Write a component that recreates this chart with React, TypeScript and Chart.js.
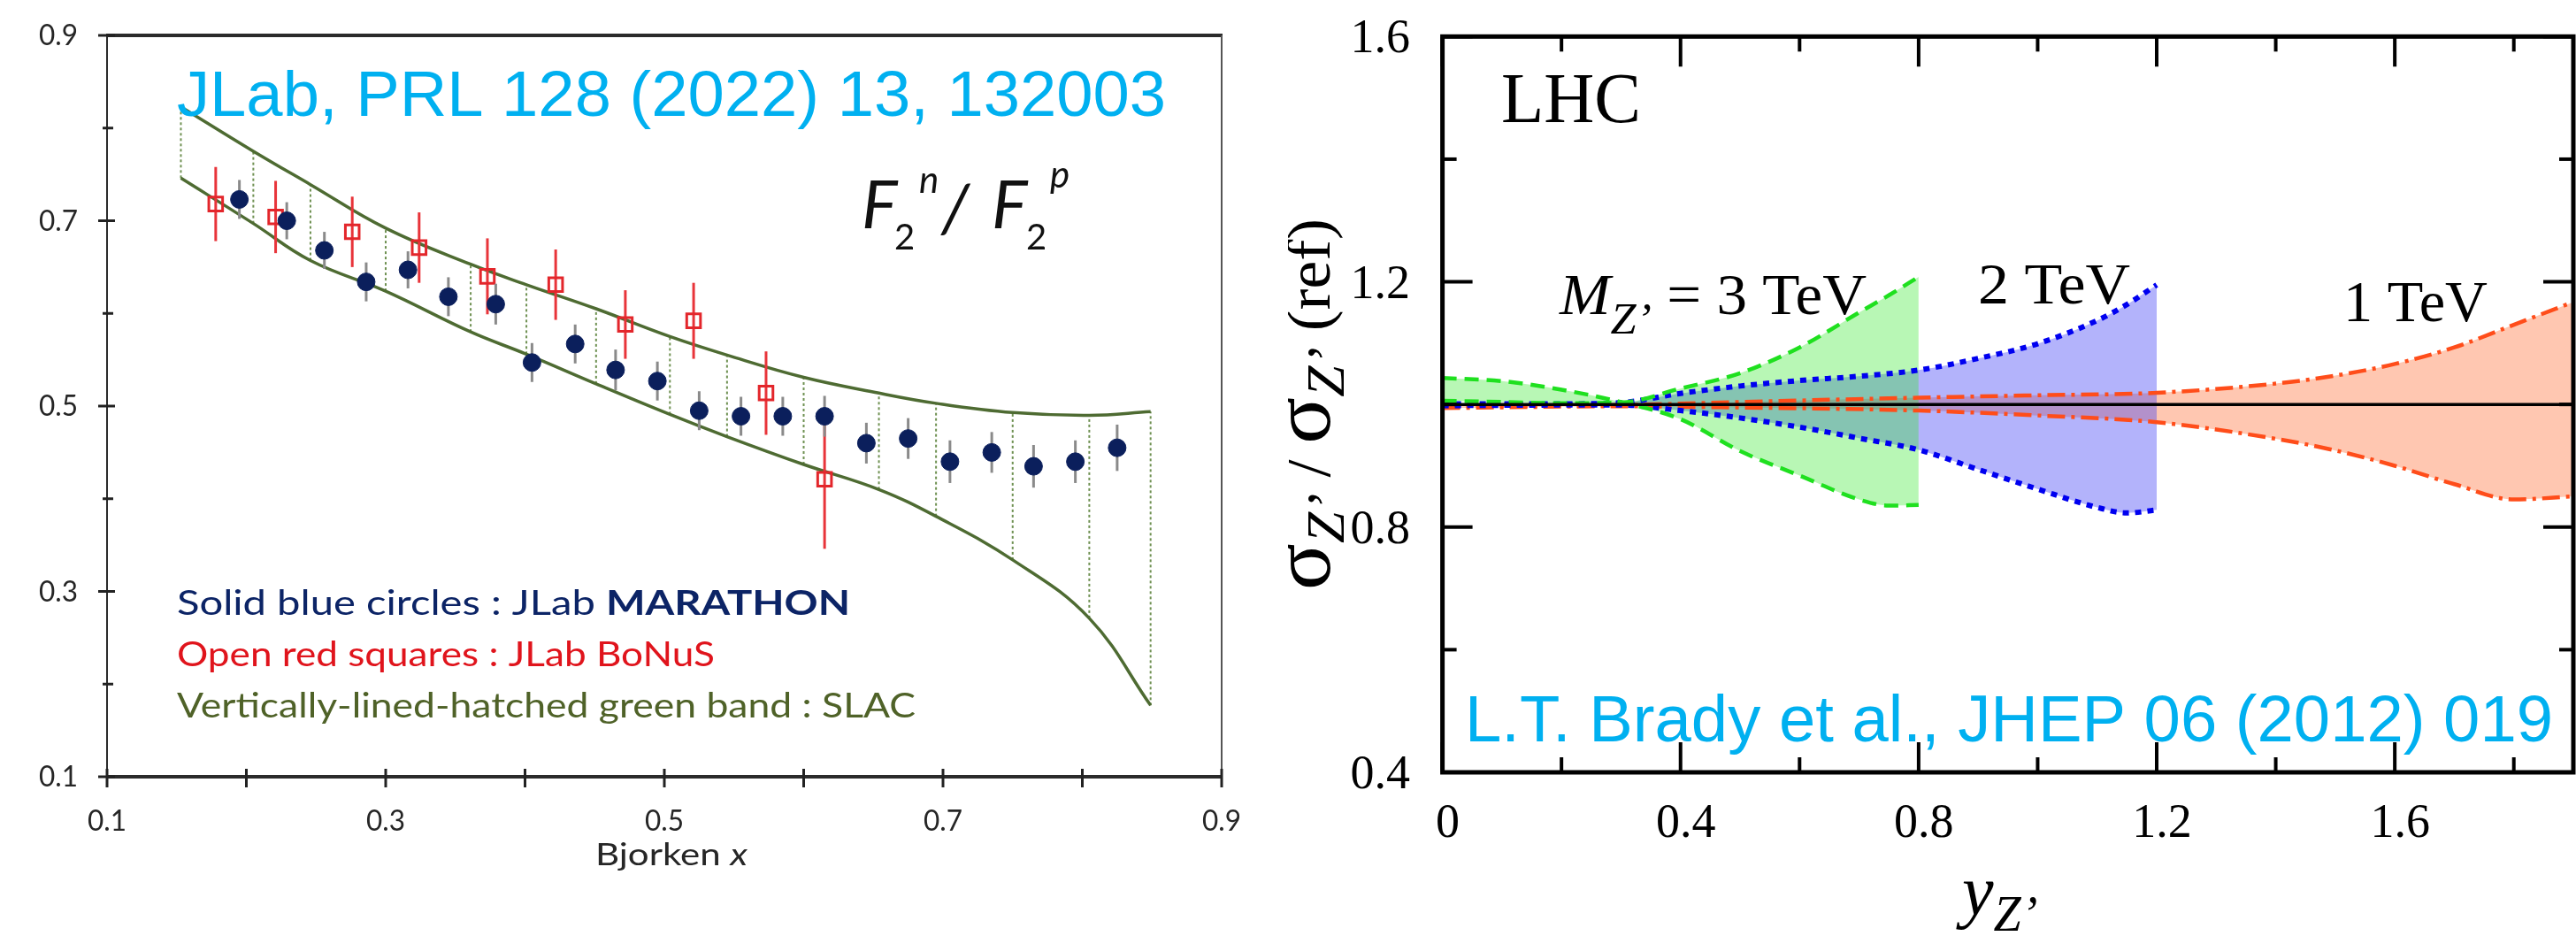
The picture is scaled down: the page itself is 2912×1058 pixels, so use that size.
import React, { useEffect, useRef } from 'react';
import { Chart, registerables } from 'chart.js';

Chart.register(...registerables);

// ---------------- Left panel: F2n / F2p vs Bjorken x ----------------
const marathonX = [0.195, 0.229, 0.256, 0.286, 0.316, 0.345, 0.379, 0.405, 0.436, 0.465, 0.495, 0.525, 0.555, 0.585, 0.615, 0.645, 0.675, 0.705, 0.735, 0.765, 0.795, 0.825];
const marathonY = [0.723, 0.700, 0.668, 0.634, 0.647, 0.618, 0.610, 0.547, 0.567, 0.539, 0.527, 0.495, 0.489, 0.489, 0.489, 0.460, 0.465, 0.440, 0.450, 0.435, 0.440, 0.455];
const marathonErr = [0.021, 0.020, 0.020, 0.021, 0.020, 0.021, 0.022, 0.021, 0.021, 0.022, 0.021, 0.021, 0.021, 0.021, 0.022, 0.022, 0.022, 0.023, 0.022, 0.023, 0.023, 0.025];

const bonusX = [0.178, 0.221, 0.276, 0.324, 0.373, 0.422, 0.472, 0.521, 0.573, 0.615];
const bonusY = [0.718, 0.704, 0.688, 0.671, 0.640, 0.631, 0.588, 0.592, 0.514, 0.421];
const bonusErr = [0.040, 0.039, 0.038, 0.038, 0.041, 0.038, 0.037, 0.041, 0.045, 0.075];

const slacX = [0.153, 0.205, 0.246, 0.300, 0.361, 0.401, 0.451, 0.504, 0.545, 0.600, 0.654, 0.695, 0.750, 0.805, 0.849];
const slacUpper = [0.823, 0.775, 0.739, 0.692, 0.653, 0.631, 0.605, 0.575, 0.555, 0.531, 0.514, 0.503, 0.493, 0.490, 0.494];
const slacLower = [0.746, 0.697, 0.657, 0.624, 0.580, 0.556, 0.524, 0.491, 0.467, 0.437, 0.410, 0.381, 0.334, 0.271, 0.177];

const leftXTicks = [0.1, 0.2, 0.3, 0.4, 0.5, 0.6, 0.7, 0.8, 0.9];
const leftXLabels = ['0.1', '', '0.3', '', '0.5', '', '0.7', '', '0.9'];
const leftYTicks = [0.1, 0.2, 0.3, 0.4, 0.5, 0.6, 0.7, 0.8, 0.9];
const leftYLabels = ['0.1', '', '0.3', '', '0.5', '', '0.7', '', '0.9'];

// ---------------- Right panel: sigma_Z' / sigma_Z'(ref) vs y_Z' ----------------
const tev3X = [0, 0.1, 0.2, 0.3, 0.4, 0.5, 0.6, 0.7, 0.75, 0.8];
const tev3A = [1.043, 1.038, 1.024, 1.004, 0.976, 0.924, 0.884, 0.845, 0.835, 0.836];
const tev3B = [1.006, 1.004, 1.002, 1.003, 1.026, 1.051, 1.093, 1.150, 1.178, 1.208];

const tev2X = [0, 0.2, 0.3, 0.4, 0.5, 0.6, 0.7, 0.8, 0.9, 1.0, 1.1, 1.15, 1.2];
const tev2Up = [1.001, 1.001, 1.003, 1.018, 1.030, 1.039, 1.046, 1.056, 1.075, 1.099, 1.137, 1.163, 1.195];
const tev2Lo = [0.998, 0.999, 0.999, 0.990, 0.978, 0.963, 0.945, 0.926, 0.894, 0.862, 0.832, 0.823, 0.828];

const tev1X = [0, 0.3, 0.5, 0.8, 1.0, 1.2, 1.4, 1.5, 1.6, 1.7, 1.8, 1.9];
const tev1Up = [0.997, 0.999, 1.004, 1.011, 1.015, 1.019, 1.034, 1.047, 1.066, 1.093, 1.130, 1.167];
const tev1Lo = [0.994, 0.997, 0.995, 0.990, 0.982, 0.971, 0.944, 0.925, 0.900, 0.870, 0.845, 0.850];

const refX = [0, 1.9];
const refY = [1, 1];

const rightXTicks = [0, 0.2, 0.4, 0.6, 0.8, 1.0, 1.2, 1.4, 1.6, 1.8];
const rightXLabels = ['0', '', '0.4', '', '0.8', '', '1.2', '', '1.6', ''];
const rightYTicks = [0.4, 0.6, 0.8, 1.0, 1.2, 1.4, 1.6];
const rightYLabels = ['0.4', '', '0.8', '', '1.2', '', '1.6'];

// ---------------- helpers ----------------
type Piece = { t: string; font: string; color?: string; dy?: number };

function pts(xs: number[], ys: number[]) {
  return xs.map((x, i) => ({ x, y: ys[i] }));
}

function seg(ctx: CanvasRenderingContext2D, x1: number, y1: number, x2: number, y2: number, w: number) {
  ctx.lineWidth = w;
  ctx.beginPath();
  ctx.moveTo(x1, y1);
  ctx.lineTo(x2, y2);
  ctx.stroke();
}

function drawRich(ctx: CanvasRenderingContext2D, pieces: Piece[], x: number, y: number, width?: number, align: 'left' | 'center' | 'right' = 'left') {
  ctx.save();
  let total = 0;
  const ws = pieces.map((p) => {
    ctx.font = p.font;
    const w = ctx.measureText(p.t).width;
    total += w;
    return w;
  });
  const sx = width ? width / total : 1;
  const w = total * sx;
  const x0 = align === 'left' ? x : align === 'center' ? x - w / 2 : x - w;
  ctx.translate(x0, y);
  ctx.scale(sx, 1);
  ctx.textAlign = 'left';
  ctx.textBaseline = 'alphabetic';
  let cx = 0;
  pieces.forEach((p, i) => {
    ctx.font = p.font;
    ctx.fillStyle = p.color || '#000';
    ctx.fillText(p.t, cx, p.dy || 0);
    cx += ws[i];
  });
  ctx.restore();
}

const errorBarPlugin = {
  id: 'errorBars',
  beforeDatasetDraw(chart: any, args: any) {
    const ds = chart.data.datasets[args.index];
    if (!ds.errors) return;
    const ctx = chart.ctx;
    const y = chart.scales.y;
    ctx.save();
    ctx.strokeStyle = ds.errorColor;
    ctx.lineWidth = ds.errorWidth;
    args.meta.data.forEach((el: any, i: number) => {
      const v = ds.data[i].y;
      const e = ds.errors[i];
      ctx.beginPath();
      ctx.moveTo(el.x, y.getPixelForValue(v + e));
      ctx.lineTo(el.x, y.getPixelForValue(v - e));
      ctx.stroke();
    });
    ctx.restore();
  },
};

const SANS = '"Liberation Sans", Arial, sans-serif';
const CAL = 'Lato, "Noto Sans", sans-serif';
const SERIF = '"Liberation Serif", "Times New Roman", serif';
const CYAN = '#00b0f0';

const leftDecor = {
  id: 'leftDecor',
  afterDraw(chart: any) {
    const { ctx, chartArea: a, scales } = chart;
    const x = scales.x;
    const y = scales.y;
    ctx.save();
    ctx.lineCap = 'butt';
    ctx.strokeStyle = '#2b2b2b';
    seg(ctx, a.left - 1, a.top, a.right + 1, a.top, 4);
    seg(ctx, a.left - 1, a.bottom, a.right + 1, a.bottom, 4);
    seg(ctx, a.left, a.top, a.left, a.bottom, 2);
    ctx.strokeStyle = '#555';
    seg(ctx, a.right, a.top, a.right, a.bottom, 2);

    ctx.strokeStyle = '#222';
    leftXTicks.forEach((v) => {
      const px = x.getPixelForValue(v);
      seg(ctx, px, a.bottom - 9, px, a.bottom + 12, 3);
    });
    leftYTicks.forEach((v, i) => {
      const py = y.getPixelForValue(v);
      const major = leftYLabels[i] !== '';
      seg(ctx, a.left - (major ? 10 : 5), py, a.left + (major ? 9 : 7), py, 3);
    });

    leftXTicks.forEach((v, i) => {
      if (!leftXLabels[i]) return;
      drawRich(ctx, [{ t: leftXLabels[i], font: '32px ' + CAL, color: '#262626' }], x.getPixelForValue(v), 939, 44, 'center');
    });
    leftYTicks.forEach((v, i) => {
      if (!leftYLabels[i]) return;
      drawRich(ctx, [{ t: leftYLabels[i], font: '32px ' + CAL, color: '#262626' }], 88, y.getPixelForValue(v) + 11, 44, 'right');
    });

    // axis title
    drawRich(ctx, [
      { t: 'Bjorken ', font: '34px ' + CAL, color: '#262626' },
      { t: 'x', font: 'italic 34px ' + CAL, color: '#262626' },
    ], 759, 978, 172, 'center');

    // citation
    drawRich(ctx, [{ t: 'JLab, PRL 128 (2022) 13, 132003', font: '73px ' + SANS, color: CYAN }], 200, 131, 1118);

    // F2n / F2p
    ctx.fillStyle = '#111';
    ctx.textAlign = 'left';
    ctx.textBaseline = 'alphabetic';
    ctx.font = 'italic 76px ' + CAL;
    ctx.fillText('F', 974, 258);
    ctx.fillText('/', 1064, 262);
    ctx.fillText('F', 1121, 258);
    ctx.font = '40px ' + CAL;
    ctx.fillText('2', 1011, 282);
    ctx.fillText('2', 1160, 282);
    ctx.font = 'italic 42px ' + CAL;
    ctx.fillText('n', 1039, 218);
    ctx.fillText('p', 1187, 212);

    // legend text
    drawRich(ctx, [
      { t: 'Solid blue circles : JLab ', font: '38px ' + CAL, color: '#0c2466' },
      { t: 'MARATHON', font: 'bold 38px ' + CAL, color: '#0c2466' },
    ], 200, 695, 761);
    drawRich(ctx, [{ t: 'Open red squares : JLab BoNuS', font: '38px ' + CAL, color: '#e0141c' }], 200, 753, 608);
    drawRich(ctx, [{ t: 'Vertically-lined-hatched green band : SLAC', font: '38px ' + CAL, color: '#4f6228' }], 200, 811, 835);
    ctx.restore();
  },
};

const rightDecor = {
  id: 'rightDecor',
  afterDraw(chart: any) {
    const { ctx, chartArea: a, scales } = chart;
    const x = scales.x;
    const y = scales.y;
    ctx.save();
    ctx.strokeStyle = '#000';
    ctx.lineCap = 'butt';
    rightXTicks.forEach((v, i) => {
      const px = x.getPixelForValue(v);
      const L = rightXLabels[i] ? 34 : 17;
      seg(ctx, px, a.bottom, px, a.bottom - L, 4);
      seg(ctx, px, a.top, px, a.top + L, 4);
    });
    rightYTicks.forEach((v, i) => {
      const py = y.getPixelForValue(v);
      const L = rightYLabels[i] ? 34 : 16;
      seg(ctx, a.left, py, a.left + L, py, 4);
      seg(ctx, a.right, py, a.right - L, py, 4);
    });
    ctx.lineWidth = 5;
    ctx.strokeRect(a.left, a.top, a.right - a.left, a.bottom - a.top);

    ctx.fillStyle = '#000';
    ctx.font = '54px ' + SERIF;
    ctx.textBaseline = 'alphabetic';
    ctx.textAlign = 'center';
    rightXTicks.forEach((v, i) => {
      if (!rightXLabels[i]) return;
      ctx.fillText(rightXLabels[i], x.getPixelForValue(v) + 6, 946);
    });
    ctx.textAlign = 'right';
    rightYTicks.forEach((v, i) => {
      if (!rightYLabels[i]) return;
      ctx.fillText(rightYLabels[i], 138, y.getPixelForValue(v) + 18);
    });

    // x title
    drawRich(ctx, [
      { t: 'y', font: 'italic 80px ' + SERIF },
      { t: 'Z\u2019', font: 'italic 56px ' + SERIF, dy: 18 },
    ], 762, 1034);

    // y title (rotated)
    ctx.save();
    ctx.translate(47, 667);
    ctx.rotate(-Math.PI / 2);
    drawRich(ctx, [
      { t: '\u03c3', font: '96px ' + SERIF },
      { t: 'Z\u2019', font: 'italic 62px ' + SERIF, dy: 16 },
      { t: ' / ', font: '70px ' + SERIF },
      { t: '\u03c3', font: '96px ' + SERIF },
      { t: 'Z\u2019', font: 'italic 62px ' + SERIF, dy: 16 },
      { t: ' (ref)', font: '70px ' + SERIF },
    ], 0, 0, 420);
    ctx.restore();

    // annotations
    drawRich(ctx, [{ t: 'LHC', font: '80px ' + SERIF }], 241, 138, 158);
    drawRich(ctx, [
      { t: 'M', font: 'italic 66px ' + SERIF },
      { t: 'Z\u2019', font: 'italic 50px ' + SERIF, dy: 22 },
      { t: ' = 3 TeV', font: '66px ' + SERIF },
    ], 307, 355, 347);
    drawRich(ctx, [{ t: '2 TeV', font: '66px ' + SERIF }], 780, 343, 172);
    drawRich(ctx, [{ t: '1 TeV', font: '66px ' + SERIF }], 1193, 363, 163);
    drawRich(ctx, [{ t: 'L.T. Brady et al., JHEP 06 (2012) 019', font: '75px ' + SANS, color: CYAN }], 200, 838, 1230);
    ctx.restore();
  },
};

function leftConfig(): any {
  const hatch = slacX.map((x, i) => ({
    label: 'hatch' + i,
    data: [{ x, y: slacLower[i] }, { x, y: slacUpper[i] }],
    borderColor: '#6f9152',
    borderWidth: 2,
    borderDash: [3, 3],
    pointRadius: 0,
    tension: 0,
    fill: false,
  }));
  return {
    type: 'line',
    data: {
      datasets: [
        {
          label: 'JLab MARATHON',
          data: pts(marathonX, marathonY),
          showLine: false,
          pointStyle: 'circle',
          pointRadius: 10,
          borderWidth: 1,
          borderColor: '#0b1f5c',
          backgroundColor: '#0b1f5c',
          errors: marathonErr,
          errorColor: '#8a8a8a',
          errorWidth: 3,
        },
        {
          label: 'JLab BoNuS',
          data: pts(bonusX, bonusY),
          showLine: false,
          pointStyle: 'rect',
          pointRadius: 11,
          borderWidth: 3,
          borderColor: '#e3262b',
          backgroundColor: 'rgba(0,0,0,0)',
          errors: bonusErr,
          errorColor: '#e8343a',
          errorWidth: 3,
        },
        {
          label: 'SLAC upper',
          data: pts(slacX, slacUpper),
          borderColor: '#4e6b32',
          borderWidth: 3.5,
          pointRadius: 0,
          tension: 0.4,
          fill: false,
        },
        {
          label: 'SLAC lower',
          data: pts(slacX, slacLower),
          borderColor: '#4e6b32',
          borderWidth: 3.5,
          pointRadius: 0,
          tension: 0.4,
          fill: false,
        },
        ...hatch,
      ],
    },
    options: {
      responsive: false,
      animation: false,
      devicePixelRatio: 1,
      events: [],
      layout: { padding: { left: 121, top: 40, right: 75, bottom: 180 } },
      plugins: { legend: { display: false }, tooltip: { enabled: false } },
      scales: {
        x: { type: 'linear', min: 0.1, max: 0.9, display: false },
        y: { type: 'linear', min: 0.1, max: 0.9, display: false },
      },
    },
    plugins: [errorBarPlugin, leftDecor],
  };
}

function rightConfig(): any {
  const band = (xs: number[], a: number[], b: number[], color: string, fillColor: string, dash: number[], width: number, name: string) => [
    {
      label: name + ' a',
      data: pts(xs, a),
      borderColor: color,
      borderWidth: width,
      borderDash: dash,
      pointRadius: 0,
      cubicInterpolationMode: 'monotone',
      fill: '+1',
      backgroundColor: fillColor,
    },
    {
      label: name + ' b',
      data: pts(xs, b),
      borderColor: color,
      borderWidth: width,
      borderDash: dash,
      pointRadius: 0,
      cubicInterpolationMode: 'monotone',
      fill: false,
    },
  ];
  return {
    type: 'line',
    data: {
      datasets: [
        { label: 'ref', data: pts(refX, refY), borderColor: '#000', borderWidth: 3.5, pointRadius: 0, fill: false },
        ...band(tev3X, tev3A, tev3B, '#1fe01f', 'rgba(40,230,30,0.33)', [16, 9], 4.5, '3 TeV'),
        ...band(tev2X, tev2Up, tev2Lo, '#0000f0', 'rgba(60,60,245,0.39)', [7, 7], 6, '2 TeV'),
        ...band(tev1X, tev1Up, tev1Lo, '#ff4d1a', 'rgba(255,100,40,0.36)', [20, 7, 4, 7], 4.5, '1 TeV'),
      ],
    },
    options: {
      responsive: false,
      animation: false,
      devicePixelRatio: 1,
      events: [],
      layout: { padding: { left: 174.6, top: 41.3, right: 3, bottom: 185 } },
      plugins: { legend: { display: false }, tooltip: { enabled: false }, filler: { drawTime: 'beforeDatasetsDraw' } },
      scales: {
        x: { type: 'linear', min: 0, max: 1.9, display: false },
        y: { type: 'linear', min: 0.4, max: 1.6, display: false },
      },
    },
    plugins: [rightDecor],
  };
}

export default function App() {
  const leftRef = useRef<HTMLCanvasElement>(null);
  const rightRef = useRef<HTMLCanvasElement>(null);

  useEffect(() => {
    const l = new Chart(leftRef.current as HTMLCanvasElement, leftConfig());
    const r = new Chart(rightRef.current as HTMLCanvasElement, rightConfig());
    return () => {
      l.destroy();
      r.destroy();
    };
  }, []);

  return (
    <div style={{ position: 'fixed', left: 0, top: 0, width: 2912, height: 1058, background: '#fff', overflow: 'hidden' }}>
      <canvas ref={leftRef} width={1456} height={1058} style={{ position: 'absolute', left: 0, top: 0, width: 1456, height: 1058 }} />
      <canvas ref={rightRef} width={1456} height={1058} style={{ position: 'absolute', left: 1456, top: 0, width: 1456, height: 1058 }} />
    </div>
  );
}
